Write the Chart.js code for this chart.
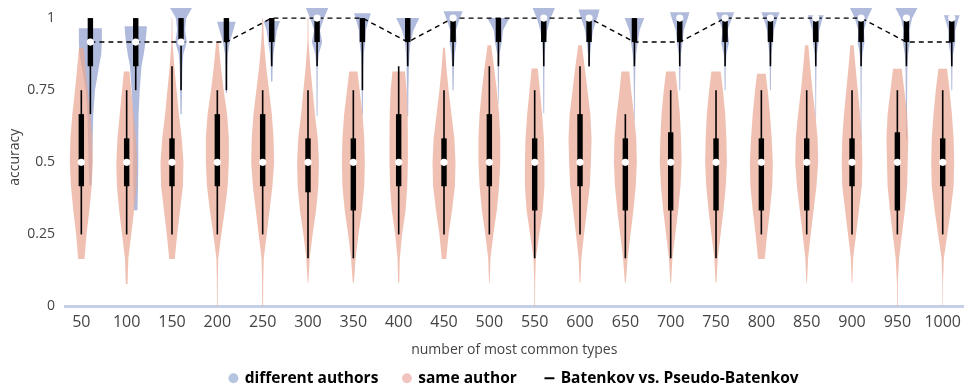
<!DOCTYPE html>
<html>
<head>
<meta charset="utf-8">
<script src="https://cdn.jsdelivr.net/npm/chart.js@4.4.1/dist/chart.umd.min.js"></script>
<style>
  html, body { margin: 0; padding: 0; background: #fff; }
  #wrap { width: 967px; height: 388px; }
</style>
</head>
<body>
<div id="wrap"><canvas id="chart"></canvas></div>
<script>
// categories
var types = ['50', '100', '150', '200', '250', '300', '350', '400', '450', '500',
             '550', '600', '650', '700', '750', '800', '850', '900', '950', '1000'];
var yTicks = [0, 0.25, 0.5, 0.75, 1];

// Batenkov vs. Pseudo-Batenkov
var batenkov = [0.917, 0.917, 0.917, 0.917, 1, 1, 1, 0.917, 1, 1,
                1, 1, 0.917, 0.917, 1, 1, 1, 1, 0.917, 0.917];

// same author: relative density read at accuracy levels 0, 1/12 ... 12/12
var sameLevels = [0, 0.083, 0.167, 0.25, 0.333, 0.417, 0.5, 0.583, 0.667, 0.75, 0.833, 0.917, 1];
var sameDensity = [
  [0, 0, .28, .45, .7, .9, 1, .95, .78, .55, .35, .15, 0],
  [0, .08, .15, .4, .65, .85, .9, .8, .6, .4, .2, 0, 0],
  [0, 0, .25, .45, .7, .95, 1, .85, .6, .4, .2, .05, .03],
  [.03, .04, .08, .35, .65, .9, 1, 1, .85, .55, .3, .1, 0],
  [.04, .05, .1, .35, .6, .85, 1, .95, .8, .55, .3, .12, .03],
  [0, .03, .15, .4, .7, .9, .95, .85, .6, .4, .2, .05, .03],
  [0, .05, .2, .45, .75, .95, 1, .95, .8, .55, .3, 0, 0],
  [0, .05, .1, .3, .6, .75, .8, .8, .78, .7, .5, 0, 0],
  [0, 0, .2, .4, .7, .95, 1, .9, .65, .4, .2, .05, 0],
  [0, .03, .1, .35, .65, .85, .95, .95, .85, .65, .4, .12, 0],
  [.03, .04, .1, .4, .7, .85, .85, .8, .65, .45, .25, 0, 0],
  [0, .04, .12, .35, .6, .85, .95, 1, .9, .65, .4, .12, 0],
  [0, .04, .2, .45, .7, .9, 1, .95, .75, .5, .3, 0, 0],
  [0, .04, .15, .4, .65, .85, .95, .9, .8, .6, .35, 0, 0],
  [0, .04, .15, .4, .65, .85, .95, .9, .8, .6, .35, 0, 0],
  [0, 0, .3, .5, .75, .95, 1, .9, .75, .55, .3, 0, 0],
  [0, .03, .12, .35, .6, .85, 1, .95, .75, .5, .3, .12, 0],
  [0, .03, .1, .35, .6, .85, .9, .85, .7, .5, .3, .12, 0],
  [.03, .04, .15, .4, .65, .85, .9, .95, .85, .6, .35, 0, 0],
  [.02, .03, .1, .4, .7, .95, 1, .95, .8, .6, .35, 0, 0]
];
var sameLo  = [.165, .078, .165, 0, 0, .083, .083, .083, .165, .083, 0, .083, .083, .083, .083, .165, .083, .083, 0, 0];
var sameHi  = [.897, .815, 1, .917, 1, 1, .815, .815, .897, .906, .825, .906, .815, .815, .815, .807, .906, .906, .824, .824];
var sameQ1  = [.417, .417, .417, .417, .417, .396, .333, .417, .417, .417, .333, .417, .333, .333, .333, .333, .333, .417, .333, .417];
var sameMed = [.5, .5, .5, .5, .5, .5, .5, .5, .5, .5, .5, .5, .5, .5, .5, .5, .5, .5, .5, .5];
var sameQ3  = [.667, .583, .583, .667, .667, .583, .583, .667, .583, .667, .583, .667, .583, .604, .583, .583, .583, .583, .604, .583];
var sameWLo = [.25, .25, .25, .25, .25, .167, .167, .25, .25, .25, .167, .25, .167, .167, .167, .25, .25, .25, .25, .25];
var sameWHi = [.75, .75, .833, .75, .75, .75, .75, .833, .75, .833, .75, .833, .667, .75, .75, .75, .75, .75, .75, .75];

// different authors: relative density read at these accuracy levels
var diffLevels = [.333, .417, .5, .583, .667, .75, .833, .875, .917, .958, 1, 1.042];
var diffDensity = [
  [0, .1, .15, .2, .25, .4, .75, .95, 1, 1, 1, 1],
  [.15, .2, .22, .22, .25, .35, .5, .7, .85, .95, 1, 1],
  [0, 0, 0, 0, .06, .08, .12, .2, .5, .35, .45, 1.05],
  [0, 0, 0, 0, 0, .06, .08, .12, .3, .6, .9, 1],
  [0, 0, 0, 0, 0, .05, .08, .15, .3, .45, .8, .8],
  [0, 0, 0, 0, .04, .05, .06, .15, .45, .25, .6, 1.05],
  [0, 0, 0, 0, .04, .06, .08, .12, .25, .3, .6, .9],
  [0, 0, 0, 0, .04, .06, .1, .15, .25, .5, 1, 1],
  [0, 0, 0, 0, 0, .05, .08, .15, .3, .25, .6, 1],
  [0, 0, 0, 0, 0, .04, .06, .1, .3, .4, .95, 1],
  [0, 0, 0, 0, .04, .05, .06, .08, .15, .3, .6, 1.05],
  [0, 0, 0, 0, 0, 0, .06, .1, .2, .35, .7, 1],
  [0, 0, 0, 0, .03, .05, .08, .15, .3, .45, .85, .9],
  [0, 0, 0, 0, 0, .04, .06, .1, .25, .35, .7, 1],
  [0, 0, 0, 0, 0, .04, .06, .12, .35, .2, .6, 1],
  [0, 0, 0, 0, 0, .04, .06, .1, .2, .3, .6, 1],
  [0, 0, 0, 0, .03, .04, .06, .1, .25, .3, .6, 1],
  [0, 0, 0, .03, .04, .05, .06, .12, .3, .25, .55, 1.05],
  [0, 0, 0, .04, .05, .06, .08, .15, .3, .25, .5, 1.05],
  [0, 0, 0, 0, 0, .04, .06, .12, .3, .3, .6, 1]
];
var diffLo  = [.42, .334, .667, .74, .78, .66, .667, .66, .75, .7, .67, .83, .645, .75, .75, .75, .65, .58, .58, .75];
var diffHi  = [.965, .972, 1.05, .987, .99, 1.05, 1.017, 1, 1.024, 1, 1.05, 1.03, 1, 1.02, 1.02, 1.02, 1.01, 1.05, 1.05, 1.01];
var diffQ1  = [.833, .833, .917, .917, .917, .917, .917, .917, .917, .917, .917, .917, .917, .917, .917, .917, .917, .917, .917, .917];
var diffMed = [.917, .917, .917, null, null, 1, null, null, 1, null, 1, 1, null, 1, 1, 1, 1, 1, 1, 1];
var diffQ3  = [1, 1, 1, 1, 1, 1, 1, 1, 1, 1, 1, 1, 1, 1, 1, 1, 1, 1, 1, 1];
var diffWLo = [.667, .75, .75, .75, .833, .833, .75, .833, .833, .833, .833, .833, .833, .833, .833, .833, .833, .833, .833, .833];
var diffWHi = [1, 1, 1, 1, 1, 1, 1, 1, 1, 1, 1, 1, 1, 1, 1, 1, 1, 1, 1, 1];

var pinkFill = 'rgba(234,166,145,0.7)';
var blueFill = 'rgba(142,156,205,0.7)';
var blueShift = 0.2;   // different authors sit a bit right of the tick
var halfWidth = 11.5;  // px for density 1

function densityAt(levels, dens, v) {
  if (v <= levels[0]) return dens[0];
  if (v >= levels[levels.length - 1]) return dens[dens.length - 1];
  for (var k = 0; k < levels.length - 1; k++) {
    if (v >= levels[k] && v <= levels[k + 1]) {
      var t = (v - levels[k]) / (levels[k + 1] - levels[k]);
      return dens[k] + (dens[k + 1] - dens[k]) * t;
    }
  }
  return 0;
}

function drawViolin(ctx, ys, cx, levels, dens, lo, hi, fill) {
  var steps = [];
  for (var v = lo; v < hi; v += 0.004) steps.push(v);
  steps.push(hi);
  ctx.beginPath();
  steps.forEach(function (v, n) {
    var px = cx + densityAt(levels, dens, v) * halfWidth;
    var py = ys.getPixelForValue(v);
    if (n === 0) ctx.moveTo(px, py); else ctx.lineTo(px, py);
  });
  for (var n = steps.length - 1; n >= 0; n--) {
    var v2 = steps[n];
    ctx.lineTo(cx - densityAt(levels, dens, v2) * halfWidth, ys.getPixelForValue(v2));
  }
  ctx.closePath();
  ctx.fillStyle = fill;
  ctx.fill();
}

function drawBox(ctx, ys, cx, q1, med, q3, wlo, whi) {
  ctx.strokeStyle = '#000';
  ctx.lineWidth = 1.6;
  ctx.beginPath();
  ctx.moveTo(cx, ys.getPixelForValue(wlo));
  ctx.lineTo(cx, ys.getPixelForValue(whi));
  ctx.stroke();
  ctx.fillStyle = '#000';
  var top = ys.getPixelForValue(q3), bot = ys.getPixelForValue(q1);
  ctx.fillRect(cx - 2.7, top, 5.4, bot - top);
  if (med !== null) {
    ctx.beginPath();
    ctx.arc(cx, ys.getPixelForValue(med), 3.6, 0, Math.PI * 2);
    ctx.fillStyle = '#fff';
    ctx.fill();
  }
}

var violinPlugin = {
  id: 'violins',
  afterLayout: function (chart) {
    // centre the legend under the plot area rather than the whole canvas
    var lg = chart.legend, a = chart.chartArea;
    var shift = (a.left + a.right) / 2 - (lg.left + lg.right) / 2;
    lg.left += shift;
    lg.right += shift;
  },
  beforeDatasetsDraw: function (chart) {
    var ctx = chart.ctx, xs = chart.scales.x, ys = chart.scales.y, a = chart.chartArea;
    ctx.save();
    ctx.beginPath();
    ctx.rect(a.left, a.top, a.right - a.left, a.bottom - a.top);
    ctx.clip();
    types.forEach(function (t, i) {
      drawViolin(ctx, ys, xs.getPixelForValue(i + blueShift), diffLevels, diffDensity[i], diffLo[i], diffHi[i], blueFill);
    });
    types.forEach(function (t, i) {
      drawViolin(ctx, ys, xs.getPixelForValue(i), sameLevels, sameDensity[i], sameLo[i], sameHi[i], pinkFill);
    });
    ctx.restore();
  },
  afterDatasetsDraw: function (chart) {
    var ctx = chart.ctx, xs = chart.scales.x, ys = chart.scales.y;
    ctx.save();
    types.forEach(function (t, i) {
      drawBox(ctx, ys, xs.getPixelForValue(i), sameQ1[i], sameMed[i], sameQ3[i], sameWLo[i], sameWHi[i]);
      drawBox(ctx, ys, xs.getPixelForValue(i + blueShift), diffQ1[i], diffMed[i], diffQ3[i], diffWLo[i], diffWHi[i]);
    });
    ctx.restore();
  }
};

var ctx = document.getElementById('chart');
var myChart = new Chart(ctx, {
  type: 'line',
  data: {
    datasets: [{
      label: 'Batenkov vs. Pseudo-Batenkov',
      data: batenkov.map(function (v, i) { return { x: i + blueShift, y: v }; }),
      borderColor: '#000',
      borderWidth: 1.4,
      borderDash: [5, 4],
      pointRadius: 0,
      fill: false,
      tension: 0
    }]
  },
  options: {
    responsive: true,
    maintainAspectRatio: false,
    animation: false,
    layout: { padding: { top: 8, left: 0, right: 0, bottom: -8 } },
    plugins: {
      tooltip: { enabled: false },
      legend: {
        position: 'bottom',
        labels: {
          font: { family: 'Open Sans', size: 15.5, weight: 'bold' },
          color: '#222',
          usePointStyle: true,
          boxWidth: 7,
          boxHeight: 7,
          padding: 5,
          generateLabels: function () {
            return [
              { text: 'different authors     ', fillStyle: '#b6c5df', strokeStyle: '#b6c5df', lineWidth: 0, pointStyle: 'circle' },
              { text: 'same author      ', fillStyle: '#f2c4c0', strokeStyle: '#f2c4c0', lineWidth: 0, pointStyle: 'circle' },
              { text: 'Batenkov vs. Pseudo-Batenkov', fillStyle: '#000', strokeStyle: '#000', lineWidth: 2, pointStyle: 'line' }
            ];
          }
        }
      }
    },
    scales: {
      x: {
        type: 'linear',
        min: -0.36,
        max: 19.46,
        afterBuildTicks: function (scale) {
          scale.ticks = types.map(function (t, i) { return { value: i }; });
        },
        ticks: {
          autoSkip: false,
          maxRotation: 0,
          padding: 6,
          color: '#444',
          font: { family: 'Open Sans', size: 16 },
          callback: function (v) { return types[v]; }
        },
        grid: { display: false, drawTicks: false },
        border: { display: true, color: '#c6cfe8', width: 3 },
        title: {
          display: true,
          text: 'number of most common types',
          color: '#444',
          font: { family: 'Open Sans', size: 14 },
          padding: { top: 4, bottom: 7 }
        }
      },
      y: {
        min: 0,
        max: 1.035,
        afterBuildTicks: function (scale) {
          scale.ticks = yTicks.map(function (v) { return { value: v }; });
        },
        afterFit: function (scale) {
          scale.width = 65;
          scale.paddingTop = 0;
          scale.paddingBottom = 0;
        },
        ticks: {
          padding: 10,
          color: '#444',
          font: { family: 'Open Sans', size: 14 },
          callback: function (v) { return String(v); }
        },
        grid: { display: false, drawTicks: false },
        border: { display: false },
        title: {
          display: true,
          text: 'accuracy',
          color: '#444',
          font: { family: 'Open Sans', size: 14 },
          padding: { top: 7, bottom: 0 }
        }
      }
    }
  },
  plugins: [violinPlugin]
});
</script>
</body>
</html>
